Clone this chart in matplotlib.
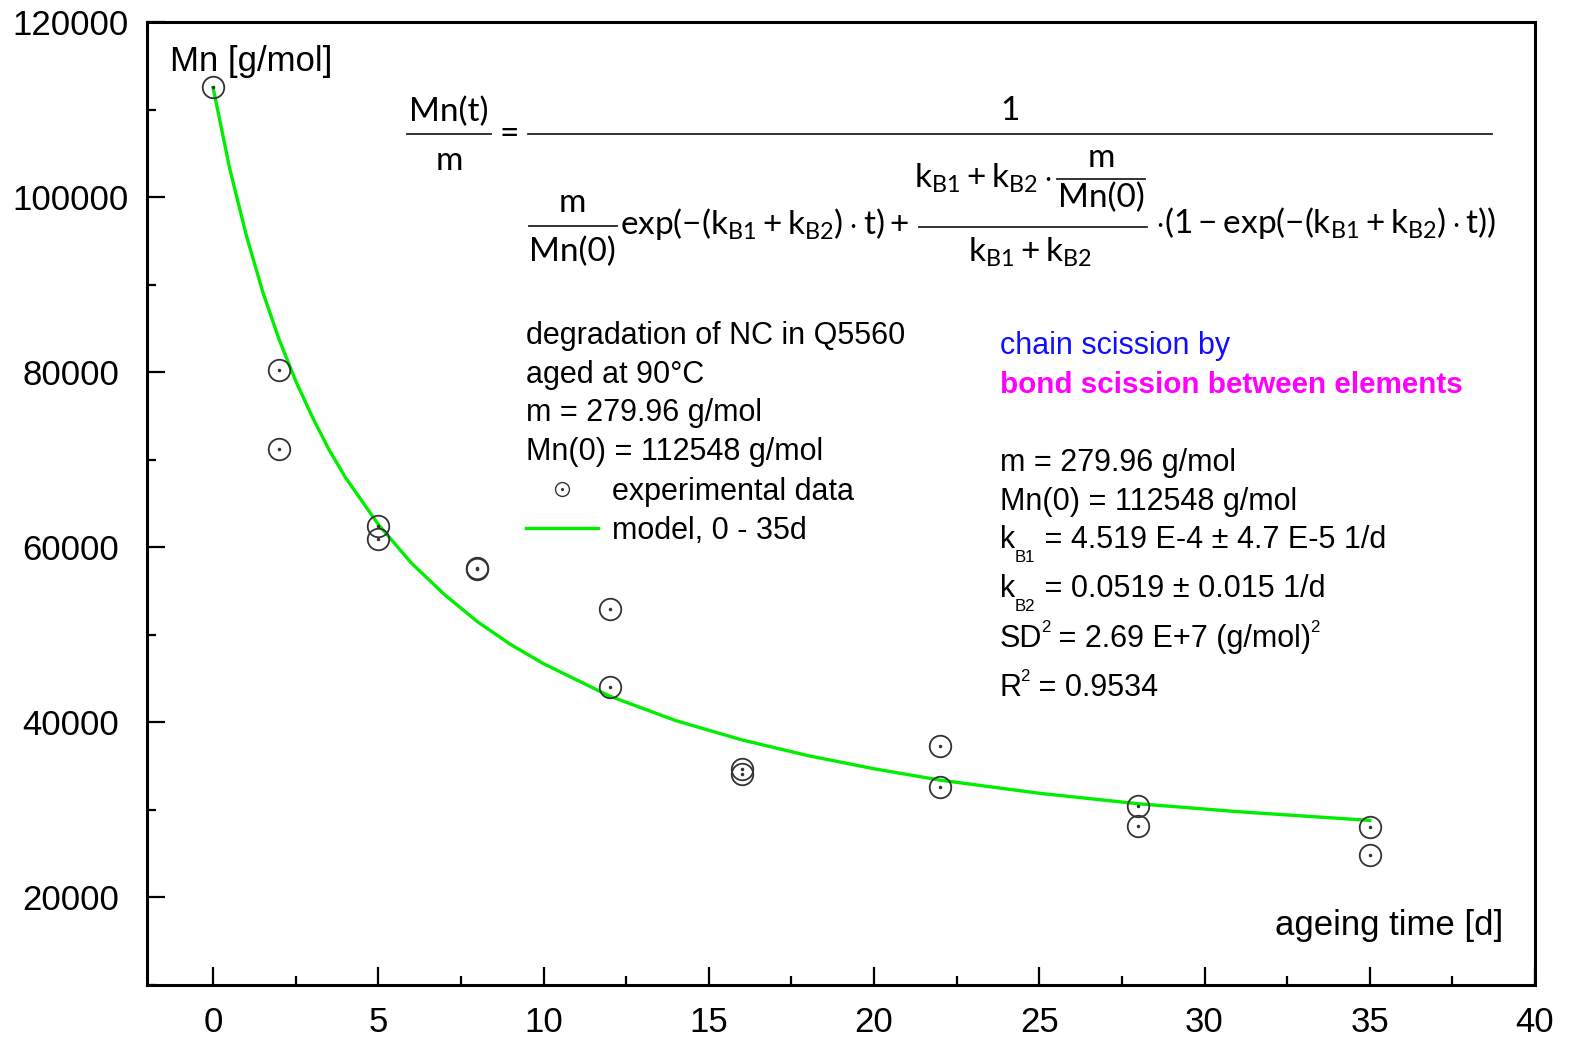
import numpy as np
import matplotlib.pyplot as plt
from matplotlib.lines import Line2D
from matplotlib.legend_handler import HandlerTuple

plt.rcParams['font.family'] = ['Liberation Sans', 'DejaVu Sans']
plt.rcParams['mathtext.fontset'] = 'custom'
plt.rcParams['mathtext.rm'] = 'Lato'
plt.rcParams['mathtext.it'] = 'Lato'
plt.rcParams['mathtext.bf'] = 'Lato:bold'

# experimental data (ageing time [d], Mn [g/mol])
t_exp = [0, 2, 2, 5, 5, 8, 8, 12, 12, 16, 16, 22, 22, 28, 28, 35, 35]
mn_exp = [112548, 80300, 71200, 62400, 61000, 57500, 57600, 53000, 44000,
          34700, 34100, 37300, 32600, 30400, 28200, 28000, 24900]

# model curve
t_model = [0, 0.5, 1, 1.5, 2, 2.5, 3, 3.5, 4, 5, 6, 7, 8, 9, 10, 12, 14, 16,
           18, 20, 22, 25, 28, 31, 35]
mn_model = [112500, 103300, 95700, 89200, 83700, 79000, 74900, 71200, 68000,
            62600, 58200, 54600, 51500, 48900, 46700, 43000, 40200, 38000,
            36200, 34700, 33400, 31900, 30700, 29800, 28800]

green = '#00ee00'
mk = '#333333'
FS = 22

fig = plt.figure(figsize=(15.69, 10.39), dpi=100)
ax = fig.add_axes([147/1569, 54/1039, 1388/1569, 963/1039])

ax.plot(t_model, mn_model, color=green, lw=2.4, zorder=2)
ax.plot(t_exp, mn_exp, ls='none', marker='o', ms=15.5, mfc='none', mec=mk, mew=1.3, zorder=3)
ax.plot(t_exp, mn_exp, ls='none', marker='o', ms=1.5, mfc=mk, mec=mk, zorder=3)

ax.set_xlim(-2, 40)
ax.set_ylim(10000, 120000)
ax.set_xticks([0, 5, 10, 15, 20, 25, 30, 35, 40])
ax.set_xticks(np.arange(2.5, 40, 5), minor=True)
ax.set_yticks([20000, 40000, 60000, 80000, 100000, 120000])
ax.set_yticks(np.arange(10000, 120000, 20000), minor=True)
ax.tick_params(which='both', direction='in', width=1.6, labelsize=25)
ax.tick_params(which='major', length=13)
ax.tick_params(which='minor', length=6.5)
ax.tick_params(axis='x', pad=15)
ax.tick_params(axis='y', pad=55)
for lab in ax.get_yticklabels():
    lab.set_ha('center')
for s in ax.spines.values():
    s.set_linewidth(2.2)

def px(x, y):
    return ((x - 147) / 1388, (985 - y) / 963)

ax.text(*px(170, 62), 'Mn [g/mol]', transform=ax.transAxes, fontsize=25, va='center', ha='left')
ax.text(*px(1503, 925), 'ageing time [d]', transform=ax.transAxes, fontsize=25, va='center', ha='right')

# model equation, laid out piece by piece
def ftext(x, y, s, ha='left'):
    ax.text(*px(x, y), s, transform=ax.transAxes, fontsize=24, family='Lato', ha=ha, va='baseline')

def fbar(x0, x1, y):
    (a0, b), (a1, _) = px(x0, y), px(x1, y)
    ax.plot([a0, a1], [b, b], transform=ax.transAxes, color='#222222', lw=1.3, clip_on=False)

kk = r'(\mathrm{k}_{\mathrm{B1}}+\mathrm{k}_{\mathrm{B2}})'
ftext(449, 121, 'Mn(t)', ha='center')
fbar(407, 491, 134)
ftext(449, 170, 'm', ha='center')
ftext(509, 143, '=', ha='center')
ftext(1010, 120, '1', ha='center')
fbar(528, 1492, 134)
ftext(572, 212, 'm', ha='center')
fbar(529, 617, 226)
ftext(572, 261, 'Mn(0)', ha='center')
ftext(620, 234, r'$\mathrm{exp}(-' + kk + r'\cdot\mathrm{t})+$')
ftext(914, 188, r'$\mathrm{k}_{\mathrm{B1}}+\mathrm{k}_{\mathrm{B2}}\cdot$')
ftext(1101, 167, 'm', ha='center')
fbar(1057, 1145, 179)
ftext(1101, 207, 'Mn(0)', ha='center')
fbar(919, 1147, 227)
ftext(1030, 262, r'$\mathrm{k}_{\mathrm{B1}}+\mathrm{k}_{\mathrm{B2}}$', ha='center')
ftext(1155, 233, r'$\cdot(1-\mathrm{exp}(-' + kk + r'\cdot\mathrm{t}))$')

left_lines = ['degradation of NC in Q5560', 'aged at 90°C', 'm = 279.96 g/mol', 'Mn(0) = 112548 g/mol']
for i, s in enumerate(left_lines):
    ax.text(*px(526, 336 + 38.7 * i), s, transform=ax.transAxes, fontsize=FS, va='center', ha='left')

h_circ = (Line2D([], [], ls='none', marker='o', ms=10, mfc='none', mec=mk, mew=1.0),
          Line2D([], [], ls='none', marker='o', ms=1.2, mfc=mk, mec=mk))
h_line = Line2D([], [], color=green, lw=2.4)
ax.legend([h_circ, h_line], ['experimental data', 'model, 0 - 35d'],
          handler_map={tuple: HandlerTuple(ndivide=1)},
          loc='upper left', bbox_to_anchor=px(526, 477), frameon=False, fontsize=FS,
          borderpad=0, borderaxespad=0, handlelength=2.35, handletextpad=0.45, labelspacing=0.3)

ax.text(*px(1000, 346), 'chain scission by', transform=ax.transAxes, fontsize=FS, va='center', color='#1010ff')
ax.text(*px(1000, 385), 'bond scission between elements', transform=ax.transAxes, fontsize=21.3,
        va='center', color='#ff00ff', fontweight='bold')


def rich_line(x, y, parts):
    base = ax.text(*px(x, y), parts[0][0], transform=ax.transAxes, fontsize=FS, va='baseline', ha='left')
    prev = base
    for txt, kind in parts[1:]:
        if kind == 'sub':
            t = ax.annotate(txt, xy=(1, 0), xycoords=(prev, base), xytext=(0, -7),
                            textcoords='offset points', fontsize=FS * 0.55, va='bottom', ha='left')
        elif kind == 'sup':
            t = ax.annotate(txt, xy=(1, 1), xycoords=(prev, base), xytext=(-1, 3),
                            textcoords='offset points', fontsize=FS * 0.55, va='top', ha='left')
        else:
            t = ax.annotate(txt, xy=(1, 0), xycoords=(prev, base), fontsize=FS, va='bottom', ha='left')
        prev = t


rich_line(1000, 471, [('m = 279.96 g/mol', 'n')])
rich_line(1000, 510, [('Mn(0) = 112548 g/mol', 'n')])
rich_line(1000, 548, [('k', 'n'), ('B1', 'sub'), (' = 4.519 E-4 ± 4.7 E-5 1/d', 'n')])
rich_line(1000, 597, [('k', 'n'), ('B2', 'sub'), (' = 0.0519 ± 0.015 1/d', 'n')])
rich_line(1000, 647, [('SD', 'n'), ('2', 'sup'), (' = 2.69 E+7 (g/mol)', 'n'), ('2', 'sup')])
rich_line(1000, 696, [('R', 'n'), ('2', 'sup'), (' = 0.9534', 'n')])

fig.savefig('out.png', dpi=100)
